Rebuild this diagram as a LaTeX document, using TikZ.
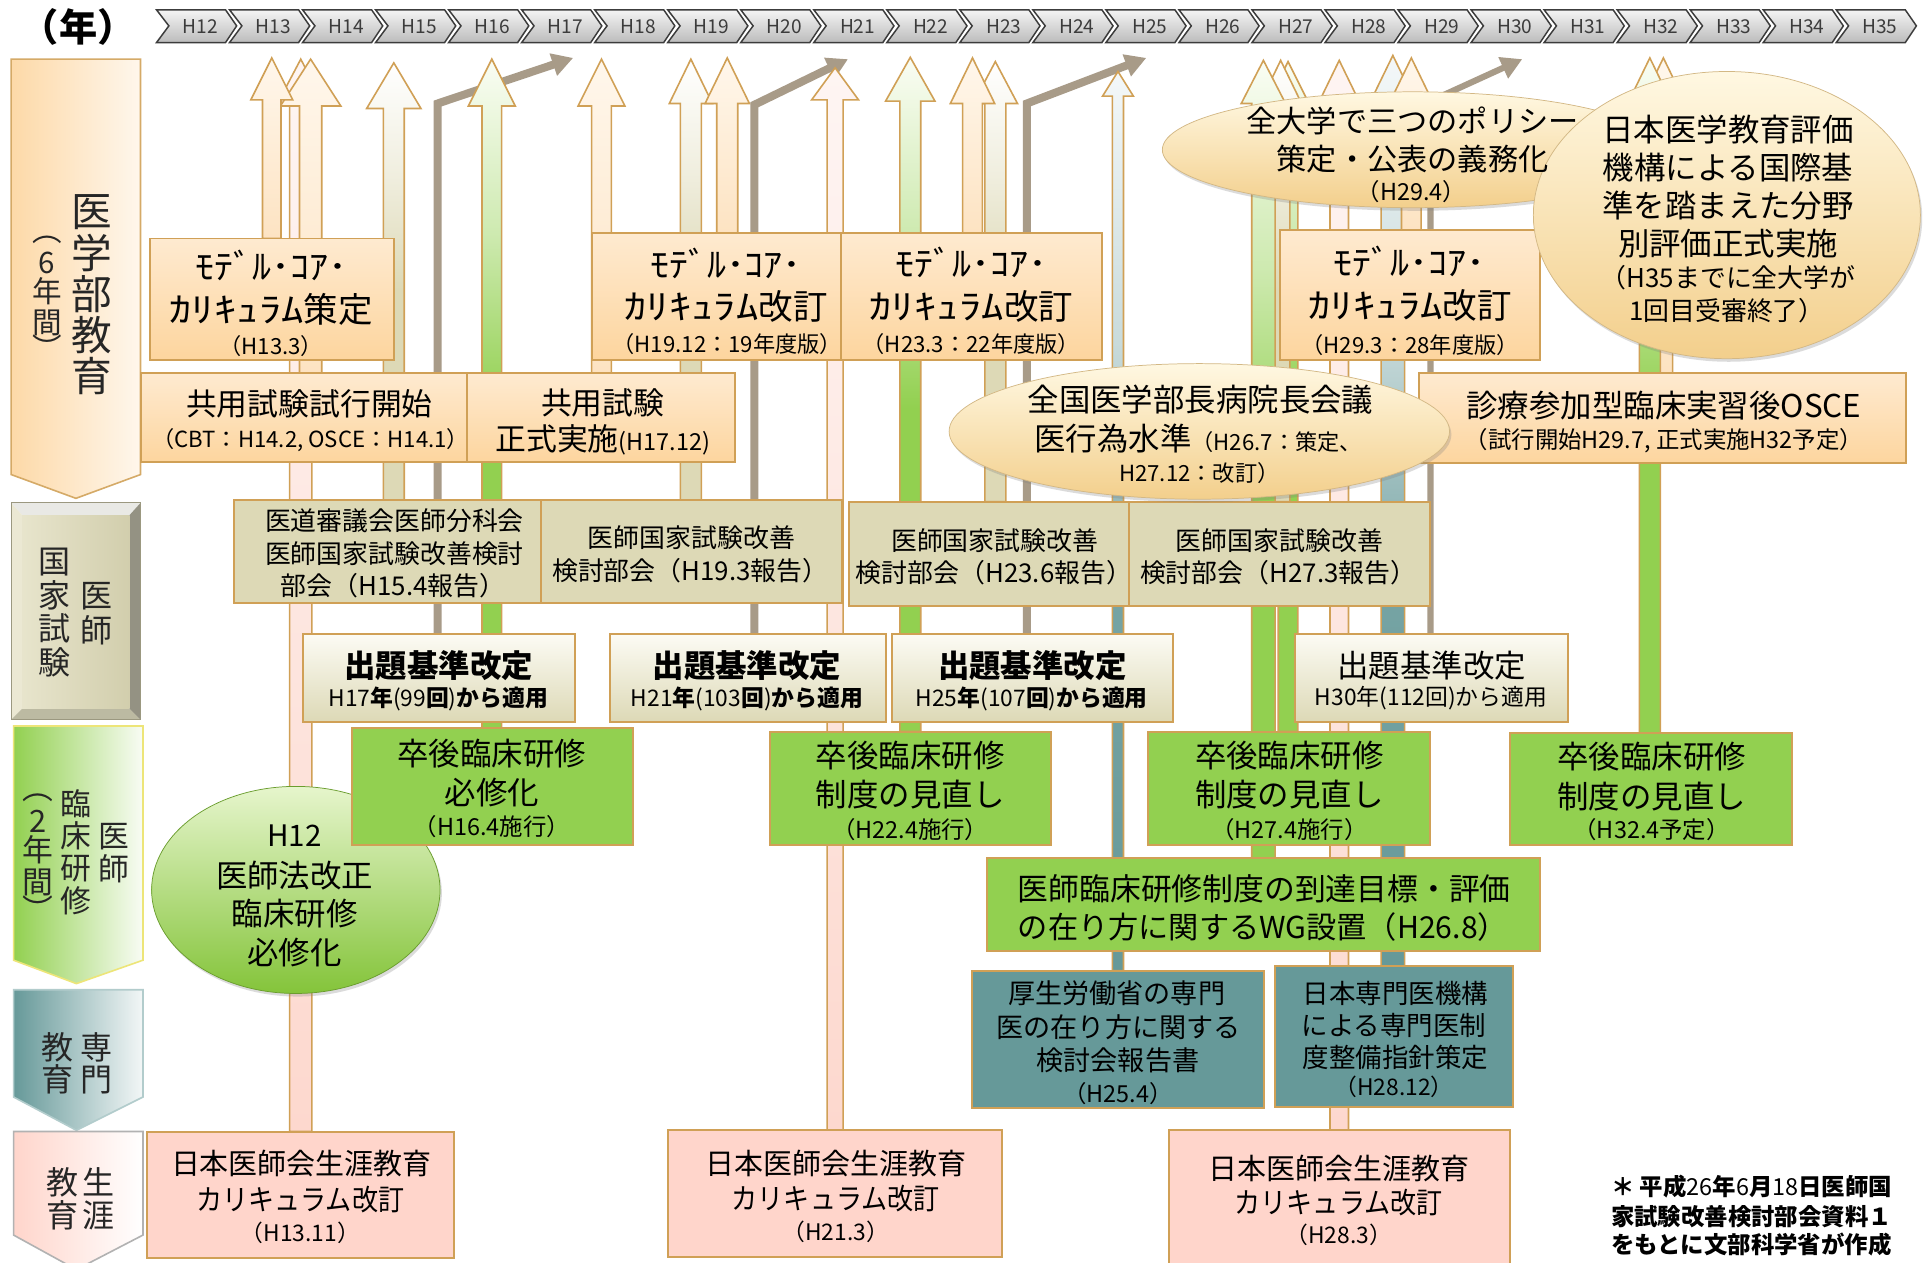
\documentclass[tikz,border=0pt]{standalone}
\usepackage{fontspec}
\setmainfont{Noto Sans CJK JP}
\usepackage{graphicx}
\usetikzlibrary{shapes.geometric,shadows,arrows.meta}
\pgfdeclarelayer{bg}
\pgfsetlayers{bg,main}

\definecolor{bordertan}{HTML}{D0A056}
\definecolor{orTop}{HTML}{FEEAD0}
\definecolor{orBot}{HTML}{FDD59E}
\definecolor{arOrTop}{HTML}{FFF7EC}
\definecolor{arOrBot}{HTML}{FDE3C2}
\definecolor{beigeC}{HTML}{DDD9B6}
\definecolor{skTop}{HTML}{FCFBF4}
\definecolor{grnC}{HTML}{92D050}
\definecolor{grnTop}{HTML}{FAFDF4}
\definecolor{tealC}{HTML}{669999}
\definecolor{tealTop}{HTML}{F4F8F9}
\definecolor{pnkC}{HTML}{FFD5CB}
\definecolor{pnkTop}{HTML}{FEF5F3}
\definecolor{pnkBot}{HTML}{FDD8CE}
\definecolor{taupeC}{HTML}{A89B88}
\definecolor{creamTop}{HTML}{FFF8E2}
\definecolor{creamBot}{HTML}{F3CF8C}
\definecolor{ballTop}{HTML}{E6F5CC}
\definecolor{ballBot}{HTML}{84C43A}
\definecolor{chevTop}{HTML}{F4F4F4}
\definecolor{chevBot}{HTML}{BCBCBC}
\definecolor{chevLine}{HTML}{3C3C3C}
\definecolor{lblC}{HTML}{262626}

\pgfdeclareverticalshading{grsh}{100bp}{color(0bp)=(grnC); color(25bp)=(grnC); color(49bp)=(grnC); color(62bp)=(grnC!45!white); color(75bp)=(grnTop); color(100bp)=(grnTop)}
\pgfdeclareverticalshading{bgsh}{100bp}{color(0bp)=(beigeC); color(25bp)=(beigeC); color(49bp)=(beigeC); color(62bp)=(beigeC!45!white); color(75bp)=(white); color(100bp)=(white)}
\pgfdeclareverticalshading{tlsh}{100bp}{color(0bp)=(tealC); color(25bp)=(tealC); color(45bp)=(tealC!90!white); color(60bp)=(tealC!35!white); color(75bp)=(tealTop); color(100bp)=(tealTop)}

\newcommand\fsz[1]{\fontsize{#1}{#1}\selectfont}
\newcommand\hsc[2]{\scalebox{#1}[1]{#2}}
\newcount\txc
\newcommand\mytext[4]{\global\advance\txc by 1 \node[txt, font=\fsz{#3}] (t\the\txc) at (#1,#2) {#4};}
\newcommand\mytextw[4]{\global\advance\txc by 1 \node[txt, anchor=west, font=\fsz{#3}] (t\the\txc) at (#1,#2) {#4};}
\newcommand\bxn[6]{\node[#2, minimum width={#5pt-#3pt}, minimum height={#6pt-#4pt}] (#1) at ({(#3+#5)/2},{(#4+#6)/2}) {};}
\newcommand\barrow[7]{\path[#7] ({#2-#3/2},0 |- #1.north) -- ({#2-#3/2},#6) -- ({#2-#4/2},#6) -- (#2,#5) -- ({#2+#4/2},#6) -- ({#2+#3/2},#6) -- ({#2+#3/2},0 |- #1.north) -- cycle;}

\tikzset{
  txt/.style={inner sep=0pt, outer sep=0pt, text=black},
  bx/.style={rectangle, draw=bordertan, line width=1.6pt, inner sep=0pt, outer sep=0pt},
  mcbox/.style={bx, top color=orTop, bottom color=orBot},
  ksbox/.style={bx, fill=beigeC},
  skbox/.style={bx, top color=skTop, bottom color=beigeC},
  sgbox/.style={bx, fill=grnC},
  smbox/.style={bx, fill=tealC},
  shbox/.style={bx, fill=pnkC},
  ellbox/.style={ellipse, inner sep=0pt, outer sep=0pt, draw=creamBot!85!black!90, line width=0.6pt,
     top color=creamTop, bottom color=creamBot,
     drop shadow={opacity=0.28, shadow xshift=1.5pt, shadow yshift=-2.5pt}},
  ballbox/.style={ellipse, inner sep=0pt, outer sep=0pt, draw=ballBot!80!black, line width=0.6pt,
     top color=ballTop, bottom color=ballBot,
     drop shadow={opacity=0.28, shadow xshift=1.5pt, shadow yshift=-2.5pt}},
  arrbase/.style={draw=bordertan, line width=1.3pt},
  orarr/.style={arrbase, top color=arOrTop, bottom color=arOrBot},
  pkarr/.style={arrbase, top color=pnkTop, bottom color=pnkBot},
  bgarr/.style={arrbase, shade, shading=bgsh},
  grarr/.style={arrbase, shade, shading=grsh},
  tlarr/.style={arrbase, shade, shading=tlsh},
  taupeline/.style={draw=taupeC, line width=6.5pt, -{Triangle[length=17pt,width=18pt]}},
  chev/.style={draw=chevLine, line width=1.2pt, top color=chevTop, bottom color=chevBot},
  chevtxt/.style={inner sep=0pt, text=chevLine, font=\fsz{15.5}},
}

\begin{document}
\begin{tikzpicture}[x=1pt,y=-1pt]
\useasboundingbox (0,0) rectangle (1565,1024);
\begin{pgfonlayer}{bg}
\fill[white] (0,0) rectangle (1565,1024);
\end{pgfonlayer}

% ---------- timeline ----------
\foreach \i in {0,...,23}{
  \pgfmathsetmacro\xa{127+\i*59.25}
  \pgfmathtruncatemacro\yr{12+\i}
  \path[chev] (\xa,8) -- ++(56,0) -- ++(9,13) -- ++(-9,13.5) -- ++(-56,0) -- ++(10,-13.5) -- cycle;
  \node[chevtxt] (ch\i) at (\xa+35.5,21.3) {H\yr};
}
\node[txt, font=\fsz{31}\bfseries] (nen) at (63.5,21.5) {（年）};

% ---------- left category labels ----------
\path[draw=bordertan!90, line width=1.3pt, left color=orBot!90, right color=orTop!40] (9,48) -- (114,48) -- (114,385) -- (61.6,404.3) -- (9,385) -- cycle;
% bevel box
\fill[black!8!white!90!beigeC] (9,408) -- (114,408) -- (105,418) -- (18,418) -- cycle;
\fill[beigeC!60!white] (9,408) -- (18,418) -- (18,575) -- (9,584) -- cycle;
\fill[beigeC!55!black!80] (114,408) -- (114,584) -- (105,575) -- (105,418) -- cycle;
\fill[beigeC!80!black!85] (9,584) -- (114,584) -- (105,575) -- (18,575) -- cycle;
\path[left color=beigeC!70!white, right color=beigeC!95!black] (18,418) rectangle (105,575);
\draw[beigeC!70!black, line width=0.8pt] (9,408) rectangle (114,584);
\path[draw=yellow!40!beigeC, line width=1.3pt, left color=grnC, right color=grnC!6!white] (11,589) -- (116,589) -- (116,779) -- (62,798) -- (11,779) -- cycle;
\path[draw=tealC!50!white, line width=1.3pt, left color=tealC, right color=tealC!8!white] (11,803) -- (116,803) -- (116,890) -- (62,917) -- (11,890) -- cycle;
\path[draw=black!30, line width=1.3pt, left color=pnkC, right color=white] (11,918) -- (116,918) -- (116,1002) -- (62,1030) -- (11,1002) -- cycle;

% ---------- circle (behind boxes) ----------
\node[ballbox, minimum width=234pt, minimum height=168pt] (C12) at (240,722) {};

% ---------- boxes ----------
\bxn{MC1}{mcbox}{121.5}{193.5}{319.5}{292}
\bxn{MC2}{mcbox}{480.5}{189}{682.5}{292}
\bxn{MC3}{mcbox}{682.5}{189}{894}{292}
\bxn{MC4}{mcbox}{1038.7}{186.6}{1249.5}{292}
\bxn{KY1}{mcbox}{114}{303}{378.5}{375}
\bxn{KY2}{mcbox}{378.5}{303}{596.6}{375}
\bxn{OSCE}{mcbox}{1151}{303}{1546.3}{376}
\bxn{KS1}{ksbox}{190}{405.6}{439}{489.5}
\bxn{KS2}{ksbox}{439}{405.6}{682.8}{489.5}
\bxn{KS3}{ksbox}{688.6}{407}{915.7}{491.6}
\bxn{KS4}{ksbox}{915.7}{407}{1160}{491.6}
\bxn{SK1}{skbox}{245.6}{514.4}{466.5}{585.4}
\bxn{SK2}{skbox}{494.6}{514.4}{718.5}{585.5}
\bxn{SK3}{skbox}{723.5}{514.4}{951.8}{585.5}
\bxn{SK4}{skbox}{1051}{514.4}{1272.3}{585.5}
\bxn{SG1}{sgbox}{285.4}{590.8}{513.6}{685.6}
\bxn{SG2}{sgbox}{624.6}{593.5}{852.8}{685.6}
\bxn{SG3}{sgbox}{931.2}{593.5}{1160}{685.6}
\bxn{SG4}{sgbox}{1224.9}{595}{1453.9}{685.5}
\bxn{WG}{sgbox}{800.4}{696.4}{1249.5}{771.3}
\bxn{SM1}{smbox}{788.7}{787.5}{1025.5}{899.2}
\bxn{SM2}{smbox}{1034.5}{783.7}{1227.3}{897.8}
\bxn{SH1}{shbox}{119.5}{918}{368.7}{1020.9}
\bxn{SH2}{shbox}{541.9}{916.8}{812.8}{1019.5}
\bxn{SH3}{shbox}{948.6}{917}{1224.9}{1035}

% ---------- ellipses ----------
\node[ellbox, minimum width=406pt, minimum height=94pt] (E1) at (1146,121.5) {};
\node[ellbox, minimum width=314pt, minimum height=233pt] (E2) at (1401,174.5) {};
\node[ellbox, minimum width=406pt, minimum height=110pt] (E3) at (973,350) {};

% ---------- arrows (background) ----------
\begin{pgfonlayer}{bg}
\barrow{SH1}{244}{18}{40}{48}{86}{pkarr}
\barrow{KY1}{252}{18}{49}{48}{86}{orarr}
\barrow{MC1}{220.5}{15}{34}{47}{81}{orarr}
\barrow{KS1}{319.5}{17}{44}{51}{88}{bgarr}
\draw[taupeline] (355,0 |- SK1.north) -- (355,84) -- (465,47);
\barrow{SG1}{399}{16}{38}{48}{86}{grarr}
\barrow{KY2}{488}{16}{38}{48}{86}{orarr}
\barrow{KS2}{560.5}{17}{35}{48}{84}{bgarr}
\barrow{MC2}{590}{17}{36}{47}{84}{orarr}
\draw[taupeline] (612,0 |- SK2.north) -- (612,85) -- (688,48);
\barrow{SH2}{677.5}{13}{38}{55}{81}{pkarr}
\barrow{SG2}{738.5}{17}{40}{46.5}{82}{grarr}
\barrow{KS3}{807.5}{17}{36}{50}{84}{bgarr}
\barrow{MC3}{789}{16}{36}{47}{84}{orarr}
\draw[taupeline] (833,0 |- SK3.north) -- (833,84) -- (930,47);
\barrow{SM1}{907}{9}{25}{58}{78}{tlarr}
\barrow{SG3}{1045}{16}{34}{50}{84}{grarr}
\barrow{KS4}{1039}{15}{34}{49}{84}{bgarr}
\barrow{WG}{1025}{19}{36}{49}{84}{grarr}
\barrow{SH3}{1086.5}{15}{34}{49}{84}{pkarr}
\barrow{SM2}{1130}{19}{36}{45}{82}{tlarr}
\barrow{MC4}{1145}{16}{36}{47}{84}{orarr}
\draw[taupeline, line width=5pt] (1160.5,0 |- SK4.north) -- (1160.5,82) -- (1235,48);
\barrow{OSCE}{1349.5}{15}{34}{47}{82}{orarr}
\barrow{SG4}{1338.5}{17}{34}{47}{82}{grarr}
\end{pgfonlayer}

% ---------- vertical labels ----------
\foreach \c/\yy [count=\k] in {医/172.1,学/205.4,部/238.7,教/272,育/305.3}{\node[txt, text=lblC, font=\fsz{33}] (la\k) at (74.3,\yy) {\c};}
\foreach \c/\yy [count=\k] in {︵/195,6/213,年/236.6,間/261.6,︶/282}{\node[txt, text=lblC, font=\fsz{24}] (lb\k) at (38,\yy) {\c};}
\foreach \c/\yy [count=\k] in {医/484,師/511}{\node[txt, text=lblC, font=\fsz{26}] (lc\k) at (78,\yy) {\c};}
\foreach \c/\yy [count=\k] in {国/456,家/483,試/510,験/537}{\node[txt, text=lblC, font=\fsz{26}] (ld\k) at (44,\yy) {\c};}
\foreach \c/\yy [count=\k] in {医/679,師/705}{\node[txt, text=lblC, font=\fsz{25}] (le\k) at (92.4,\yy) {\c};}
\foreach \c/\yy [count=\k] in {臨/652,床/678,研/704.5,修/731}{\node[txt, text=lblC, font=\fsz{25}] (lf\k) at (61.6,\yy) {\c};}
\foreach \c/\yy [count=\k] in {︵/647,2/666,年/689,間/716,︶/737}{\node[txt, text=lblC, font=\fsz{25}] (lg\k) at (30.8,\yy) {\c};}
\foreach \c/\yy [count=\k] in {専/850,門/876}{\node[txt, text=lblC, font=\fsz{26}] (lh\k) at (78,\yy) {\c};}
\foreach \c/\yy [count=\k] in {教/850,育/876}{\node[txt, text=lblC, font=\fsz{26}] (li\k) at (47,\yy) {\c};}
\foreach \c/\yy [count=\k] in {生/959,涯/986}{\node[txt, text=lblC, font=\fsz{26}] (lj\k) at (80,\yy) {\c};}
\foreach \c/\yy [count=\k] in {教/959,育/986}{\node[txt, text=lblC, font=\fsz{26}] (lk\k) at (51,\yy) {\c};}

% ---------- texts ----------
\mytext{220}{215}{28}{\hsc{1.1}{ﾓﾃﾞﾙ･ｺｱ･}}
\mytext{220}{251}{28}{\hsc{1.3}{ｶﾘｷｭﾗﾑ}策定}
\mytext{220}{281}{18}{（H13.3）}
\mytext{589}{213.5}{28}{\hsc{1.1}{ﾓﾃﾞﾙ･ｺｱ･}}
\mytext{589}{249}{28}{\hsc{1.3}{ｶﾘｷｭﾗﾑ}改訂}
\mytext{590}{279}{18}{（H19.12：19年度版）}
\mytext{788}{213}{28}{\hsc{1.1}{ﾓﾃﾞﾙ･ｺｱ･}}
\mytext{788}{249}{28}{\hsc{1.3}{ｶﾘｷｭﾗﾑ}改訂}
\mytext{788}{279}{18}{（H23.3：22年度版）}
\mytext{1143.5}{212}{28}{\hsc{1.1}{ﾓﾃﾞﾙ･ｺｱ･}}
\mytext{1144}{248}{28}{\hsc{1.3}{ｶﾘｷｭﾗﾑ}改訂}
\mytext{1144}{280}{18}{（H29.3：28年度版）}

\mytext{251}{328}{25}{共用試験試行開始}
\mytext{252}{357}{18}{（CBT：H14.2, OSCE：H14.1）}
\mytext{489}{326.5}{25}{共用試験}
\mytext{489}{357}{25}{正式実施{\fsz{19}(H17.12)}}
\mytext{1350}{329}{25.5}{診療参加型臨床実習後OSCE}
\mytext{1350}{357.5}{19}{（試行開始H29.7, 正式実施H32予定）}

\mytext{1146}{98}{24.5}{全大学で三つのポリシー}
\mytext{1146}{129}{24.5}{策定・公表の義務化}
\mytext{1145}{155.5}{19}{（H29.4）}
\mytext{1402}{105}{25.5}{日本医学教育評価}
\mytext{1402}{136}{25.5}{機構による国際基}
\mytext{1402}{167}{25.5}{準を踏まえた分野}
\mytext{1402}{198}{25.5}{別評価正式実施}
\mytext{1402}{225}{21}{（H35までに全大学が}
\mytext{1401}{252}{21}{1回目受審終了）}
\mytext{974}{324}{25.5}{全国医学部長病院長会議}
\mytext{972}{355.5}{25.5}{医行為水準{\fsz{18}（H26.7：策定、}}
\mytext{973}{383.5}{18}{H27.12：改訂）}

\mytext{320}{422.5}{21}{医道審議会医師分科会}
\mytext{320}{449.5}{21}{医師国家試験改善検討}
\mytext{319}{475}{21}{部会（H15.4報告）}
\mytext{561}{436}{21}{医師国家試験改善}
\mytext{560}{463}{21}{検討部会（H19.3報告）}
\mytext{807}{439}{21}{医師国家試験改善}
\mytext{806.5}{465}{21}{検討部会（H23.6報告）}
\mytext{1038}{439}{21}{医師国家試験改善}
\mytext{1037}{465}{21}{検討部会（H27.3報告）}

\mytext{356}{540}{25.5}{\bfseries 出題基準改定}
\mytext{355.5}{567}{18.5}{H17{\bfseries 年}(99{\bfseries 回}){\bfseries から適用}}
\mytext{606}{540}{25.5}{\bfseries 出題基準改定}
\mytext{606}{567}{18.5}{H21{\bfseries 年}(103{\bfseries 回}){\bfseries から適用}}
\mytext{837.5}{540}{25.5}{\bfseries 出題基準改定}
\mytext{837}{567}{18.5}{H25{\bfseries 年}(107{\bfseries 回}){\bfseries から適用}}
\mytext{1161.5}{540}{25.5}{出題基準改定}
\mytext{1161}{566.5}{18.5}{H30年(112回)から適用}

\mytext{399}{611}{25.5}{卒後臨床研修}
\mytext{399}{643}{25.5}{必修化}
\mytext{399}{670.5}{19}{（H16.4施行）}
\mytext{738.5}{613}{25.5}{卒後臨床研修}
\mytext{738.5}{645}{25.5}{制度の見直し}
\mytext{738.5}{673}{19}{（H22.4施行）}
\mytext{1046}{613}{25.5}{卒後臨床研修}
\mytext{1046}{645}{25.5}{制度の見直し}
\mytext{1046}{673}{19}{（H27.4施行）}
\mytext{1340}{614}{25.5}{卒後臨床研修}
\mytext{1340}{646}{25.5}{制度の見直し}
\mytext{1340}{673}{19}{（H32.4予定）}

\mytext{239}{678}{24}{H12}
\mytext{239}{710.6}{25.5}{医師法改正}
\mytext{239}{741}{25.5}{臨床研修}
\mytext{239}{772.8}{25.5}{必修化}

\mytext{1025.7}{721.4}{25}{医師臨床研修制度の到達目標・評価}
\mytext{1024.6}{751.8}{24.5}{の在り方に関するWG設置（H26.8）}

\mytext{906}{806}{22}{厚生労働省の専門}
\mytext{907.5}{833}{22}{医の在り方に関する}
\mytext{907}{860.6}{22}{検討会報告書}
\mytext{907}{887}{19}{（H25.4）}
\mytext{1132}{806}{21.5}{日本専門医機構}
\mytext{1131}{832}{21.5}{による専門医制}
\mytext{1132}{858}{21.5}{度整備指針策定}
\mytext{1131}{882}{18.5}{（H28.12）}

\mytext{244.5}{944}{23.5}{日本医師会生涯教育}
\mytext{243.6}{972.8}{23.5}{\hsc{0.9}{カリキュラム改訂}}
\mytext{243.6}{1000}{18.5}{（H13.11）}
\mytext{678.3}{944}{23.5}{日本医師会生涯教育}
\mytext{678}{972}{23.5}{\hsc{0.9}{カリキュラム改訂}}
\mytext{678}{999}{18.5}{（H21.3）}
\mytext{1086.5}{948}{23.5}{日本医師会生涯教育}
\mytext{1086}{975.6}{23.5}{\hsc{0.9}{カリキュラム改訂}}
\mytext{1086}{1002}{18.5}{（H28.3）}

\mytextw{1307}{962.8}{19}{\bfseries ＊ 平成{\mdseries 26}年{\mdseries 6}月{\mdseries 18}日医師国}
\mytextw{1307}{987}{19}{\bfseries 家試験改善検討部会資料１}
\mytextw{1307}{1010}{19}{\bfseries をもとに文部科学省が作成}
\end{tikzpicture}
\end{document}
